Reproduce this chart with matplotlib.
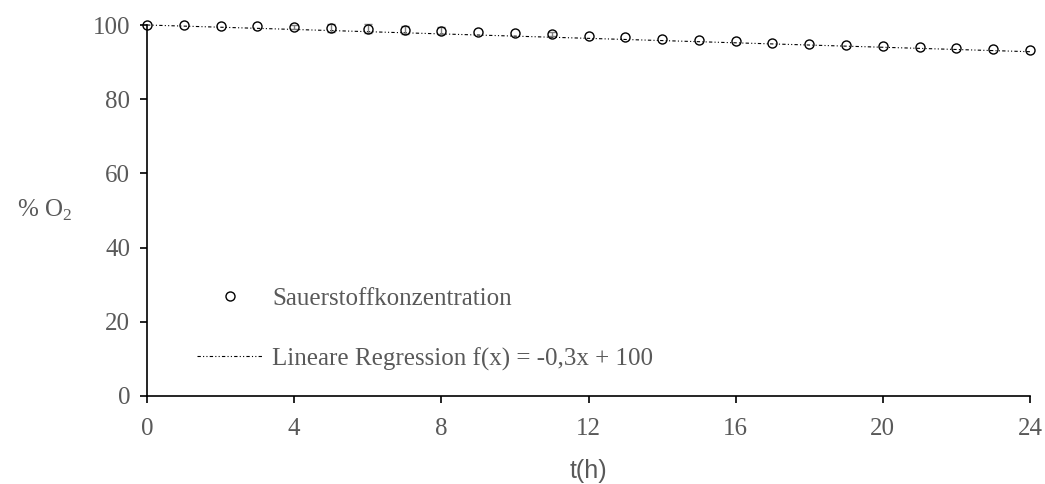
"""Sauerstoffkonzentration über 24 h mit linearer Regression."""
import matplotlib
matplotlib.use("Agg")
import matplotlib.pyplot as plt
import numpy as np

t_h = np.arange(0, 25)
o2_pct = [100.0, 100.0, 99.8, 99.6, 99.4, 99.2, 99.0, 98.7, 98.5, 98.2, 97.9, 97.6,
          97.1, 96.8, 96.3, 96.0, 95.6, 95.2, 94.9, 94.6, 94.3, 94.0, 93.8, 93.5, 93.3]
# small std-devs, only visible on a few points
o2_err = [0, 0, 0, 0, 0.6, 1.2, 1.2, 1.0, 0.9, 0, 0, 0.5,
          0, 0, 0, 0, 0, 0, 0, 0, 0, 0, 0, 0, 0]
reg_slope, reg_icpt = -0.3, 100.0

x_ticks = [0, 4, 8, 12, 16, 20, 24]
y_ticks = [0, 20, 40, 60, 80, 100]

GREY = "#595959"
SERIF = ["Liberation Serif", "DejaVu Serif"]
FS = 18

plt.rcParams["mathtext.fontset"] = "custom"
plt.rcParams["mathtext.rm"] = "Liberation Serif"

fig = plt.figure(figsize=(10.45, 4.84), dpi=100)
ax = fig.add_axes([147 / 1045, 1 - 396 / 484, (1030 - 147) / 1045, (396 - 25) / 484])

t = np.asarray(t_h, dtype=float)
y = np.asarray(o2_pct)
err = np.asarray(o2_err)

# regression line (dash-dot-dot)
xr = np.array([t[0], t[-1]])
ax.plot(xr, reg_slope * xr + reg_icpt, color="black", lw=0.8,
        dashes=(3, 2, 1, 2, 1, 2), label="Lineare Regression f(x) = -0,3x + 100",
        clip_on=False, zorder=2)

m = err > 0
ax.errorbar(t[m], y[m], yerr=err[m], fmt="none", ecolor="#7f7f7f", elinewidth=1,
            capsize=3, capthick=1, zorder=2, clip_on=False)

ax.plot(t, y, "o", ms=6.5, mfc="none", mec="black", mew=1.0,
        label="Sauerstoffkonzentration", clip_on=False, zorder=3)

ax.set_xlim(0, 24)
ax.set_ylim(0, 100)
ax.set_xticks(x_ticks)
ax.set_yticks(y_ticks)
for s in ("top", "right"):
    ax.spines[s].set_visible(False)
for s in ("left", "bottom"):
    ax.spines[s].set_linewidth(1.2)
ax.tick_params(direction="out", length=5, width=1.2, colors="black",
               labelcolor=GREY, labelsize=FS)
ax.tick_params(axis="x", pad=10.5)
ax.tick_params(axis="y", pad=7)
for lab in ax.get_xticklabels() + ax.get_yticklabels():
    lab.set_family(SERIF)

ax.set_xlabel("t(h)", family=["Liberation Sans", "DejaVu Sans"], color=GREY,
              fontsize=18, va="center")
ax.xaxis.set_label_coords(0.5, -0.202)
ax.set_ylabel("% O$_2$", family=SERIF, color=GREY, fontsize=FS,
              rotation=0, va="center", ha="center")
ax.yaxis.set_label_coords(-0.1155, 0.5)

h, l = ax.get_legend_handles_labels()
leg = ax.legend(h[::-1], l[::-1], loc="lower left", bbox_to_anchor=(0.043, 0.035),
                frameon=False, borderpad=0, handlelength=2.6, handletextpad=0.4,
                labelspacing=1.5, prop={"family": SERIF, "size": FS})
for txt in leg.get_texts():
    txt.set_color(GREY)

fig.savefig("out.png", dpi=100)
